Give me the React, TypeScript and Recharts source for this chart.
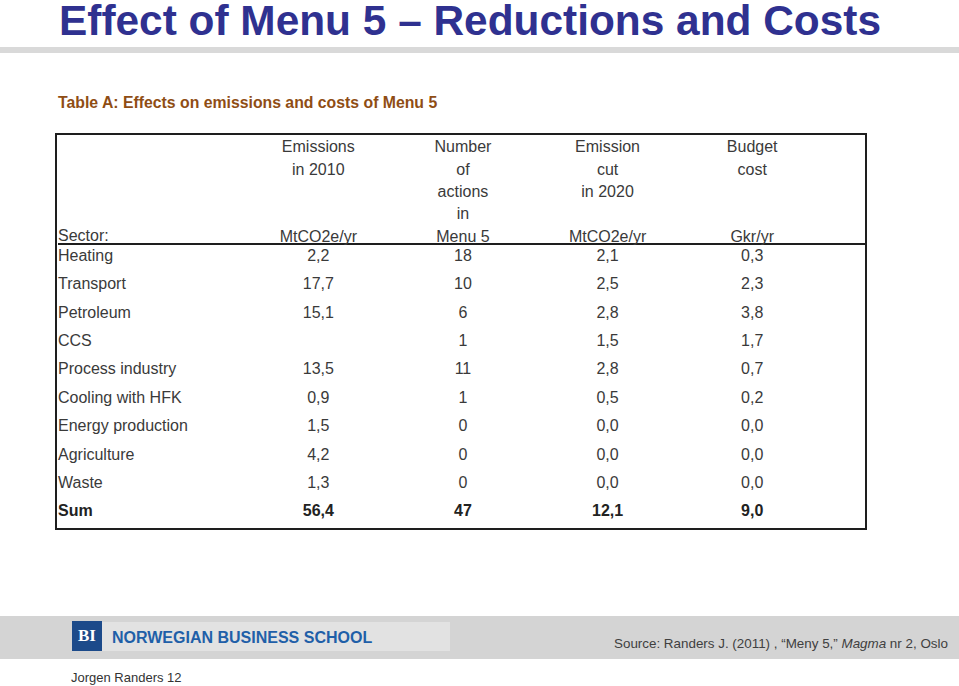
import React from 'react';
import { ScatterChart, Scatter, XAxis, YAxis } from 'recharts';

const sectors = [
  'Heating',
  'Transport',
  'Petroleum',
  'CCS',
  'Process industry',
  'Cooling with HFK',
  'Energy production',
  'Agriculture',
  'Waste',
  'Sum',
];
const emissions2010: (number | null)[] = [2.2, 17.7, 15.1, null, 13.5, 0.9, 1.5, 4.2, 1.3, 56.4];
const actionsInMenu5: (number | null)[] = [18, 10, 6, 1, 11, 1, 0, 0, 0, 47];
const emissionCut2020: (number | null)[] = [2.1, 2.5, 2.8, 1.5, 2.8, 0.5, 0.0, 0.0, 0.0, 12.1];
const budgetCost: (number | null)[] = [0.3, 2.3, 3.8, 1.7, 0.7, 0.2, 0.0, 0.0, 0.0, 9.0];

const columnHeaders = [
  ['Emissions', 'in 2010', '', '', 'MtCO2e/yr'],
  ['Number', 'of', 'actions', 'in', 'Menu 5'],
  ['Emission', 'cut', 'in 2020', '', 'MtCO2e/yr'],
  ['Budget', 'cost', '', '', 'Gkr/yr'],
];
const columnIndex = [1, 2, 3, 4];
const columnDecimals = [1, 0, 1, 1];
const columnValues = [emissions2010, actionsInMenu5, emissionCut2020, budgetCost];
const rowIndex = sectors.map((_, k) => k);

const FONT = '"Liberation Sans", Arial, Helvetica, sans-serif';
const TEXT = '#3a3a3a';

const fmt = (v: number | null, d: number) =>
  v === null || v === undefined ? '' : v.toFixed(d).replace('.', ',');

const series = columnValues.map((vals, c) =>
  sectors.map((s, k) => ({
    sector: s,
    row: rowIndex[k],
    col: columnIndex[c],
    value: vals[k],
    decimals: columnDecimals[c],
  }))
);

const HeaderTick = (props: any) => {
  const { x, y, payload } = props;
  const lines = columnHeaders[(payload.value as number) - 1] || [];
  return (
    <g>
      {lines.map((ln, k) => (
        <text
          key={k}
          x={x}
          y={y - 8 - (lines.length - 1 - k) * 22.3}
          textAnchor="middle"
          dominantBaseline="central"
          fontFamily={FONT}
          fontSize={16}
          fill={TEXT}
        >
          {ln}
        </text>
      ))}
    </g>
  );
};

const SectorTick = (props: any) => {
  const { x, y, payload } = props;
  const name = sectors[payload.value as number] ?? '';
  const isSum = name === 'Sum';
  return (
    <text
      x={x}
      y={y - 3}
      textAnchor="start"
      dominantBaseline="central"
      fontFamily={FONT}
      fontSize={16}
      fontWeight={isSum ? 'bold' : 'normal'}
      fill={isSum ? '#222' : TEXT}
    >
      {name}
    </text>
  );
};

const CellText = (props: any) => {
  const { cx, cy, payload } = props;
  if (cx == null || cy == null) return <g />;
  const isSum = payload.sector === 'Sum';
  return (
    <text
      x={cx}
      y={cy - 3}
      textAnchor="middle"
      dominantBaseline="central"
      fontFamily={FONT}
      fontSize={16}
      fontWeight={isSum ? 'bold' : 'normal'}
      fill={isSum ? '#222' : TEXT}
    >
      {fmt(payload.value, payload.decimals)}
    </text>
  );
};

export default function App() {
  return (
    <div
      style={{
        position: 'absolute',
        left: 0,
        top: 0,
        width: 959,
        height: 686,
        background: '#fff',
        overflow: 'hidden',
        fontFamily: FONT,
      }}
    >
      <div
        style={{
          position: 'absolute',
          left: 59,
          top: 0,
          fontSize: 42.4,
          lineHeight: '42px',
          fontWeight: 'bold',
          color: '#2f3190',
          whiteSpace: 'nowrap',
        }}
      >
        Effect of Menu 5 – Reductions and Costs
      </div>
      <div style={{ position: 'absolute', left: 0, top: 47, width: 959, height: 6, background: '#d9d9d9' }} />
      <div
        style={{
          position: 'absolute',
          left: 58,
          top: 92.5,
          fontSize: 15.8,
          lineHeight: '20px',
          fontWeight: 'bold',
          color: '#8f4d14',
          whiteSpace: 'nowrap',
        }}
      >
        Table A: Effects on emissions and costs of Menu 5
      </div>

      <div
        style={{
          position: 'absolute',
          left: 55,
          top: 133,
          width: 812,
          height: 397,
          border: '2px solid #1e1e1e',
          boxSizing: 'border-box',
        }}
      />
      <div
        style={{
          position: 'absolute',
          left: 58,
          top: 226,
          fontSize: 16,
          lineHeight: '20px',
          color: TEXT,
          whiteSpace: 'nowrap',
        }}
      >
        Sector:
      </div>
      <div style={{ position: 'absolute', left: 57, top: 135, width: 808, height: 393 }}>
        <ScatterChart width={808} height={393} margin={{ top: 0, right: 0, bottom: 0, left: 0 }}>
          <XAxis
            type="number"
            dataKey="col"
            orientation="top"
            domain={[-0.8, 4.78]}
            allowDataOverflow
            ticks={columnIndex}
            height={109}
            tickLine={false}
            tickSize={0}
            tickMargin={0}
            axisLine={{ stroke: '#1e1e1e', strokeWidth: 2 }}
            tick={<HeaderTick />}
            interval={0}
          />
          <YAxis
            type="number"
            dataKey="row"
            domain={[-0.5, 9.5]}
            allowDataOverflow
            reversed
            ticks={rowIndex}
            width={1}
            axisLine={false}
            tickLine={false}
            tickSize={0}
            tickMargin={0}
            interval={0}
            tick={<SectorTick />}
          />
          {series.map((d, i) => (
            <Scatter
              key={i}
              data={d}
              isAnimationActive={false}
              shape={(p: any) => <CellText {...p} />}
            />
          ))}
        </ScatterChart>
      </div>

      <div style={{ position: 'absolute', left: 0, top: 616, width: 959, height: 43, background: '#d4d4d4' }} />
      <div style={{ position: 'absolute', left: 100, top: 622, width: 350, height: 29, background: '#e2e2e2' }} />
      <div
        style={{
          position: 'absolute',
          left: 72,
          top: 621,
          width: 30,
          height: 30,
          background: '#1c4a8a',
          color: '#fff',
          fontFamily: '"Liberation Serif", "DejaVu Serif", serif',
          fontWeight: 'bold',
          fontSize: 17,
          lineHeight: '30px',
          textAlign: 'center',
        }}
      >
        BI
      </div>
      <div
        style={{
          position: 'absolute',
          left: 112,
          top: 627.8,
          fontSize: 16,
          lineHeight: '20px',
          fontWeight: 'bold',
          color: '#1f5fa8',
          whiteSpace: 'nowrap',
        }}
      >
        NORWEGIAN BUSINESS SCHOOL
      </div>
      <div
        style={{
          position: 'absolute',
          left: 614,
          top: 636,
          fontSize: 13.4,
          lineHeight: '16px',
          color: '#404040',
          whiteSpace: 'nowrap',
        }}
      >
        Source: Randers J. (2011) , “Meny 5,” <i>Magma</i> nr 2, Oslo
      </div>
      <div
        style={{
          position: 'absolute',
          left: 71,
          top: 669.5,
          fontSize: 13,
          lineHeight: '16px',
          color: '#333',
          whiteSpace: 'nowrap',
        }}
      >
        Jorgen Randers 12
      </div>
    </div>
  );
}
